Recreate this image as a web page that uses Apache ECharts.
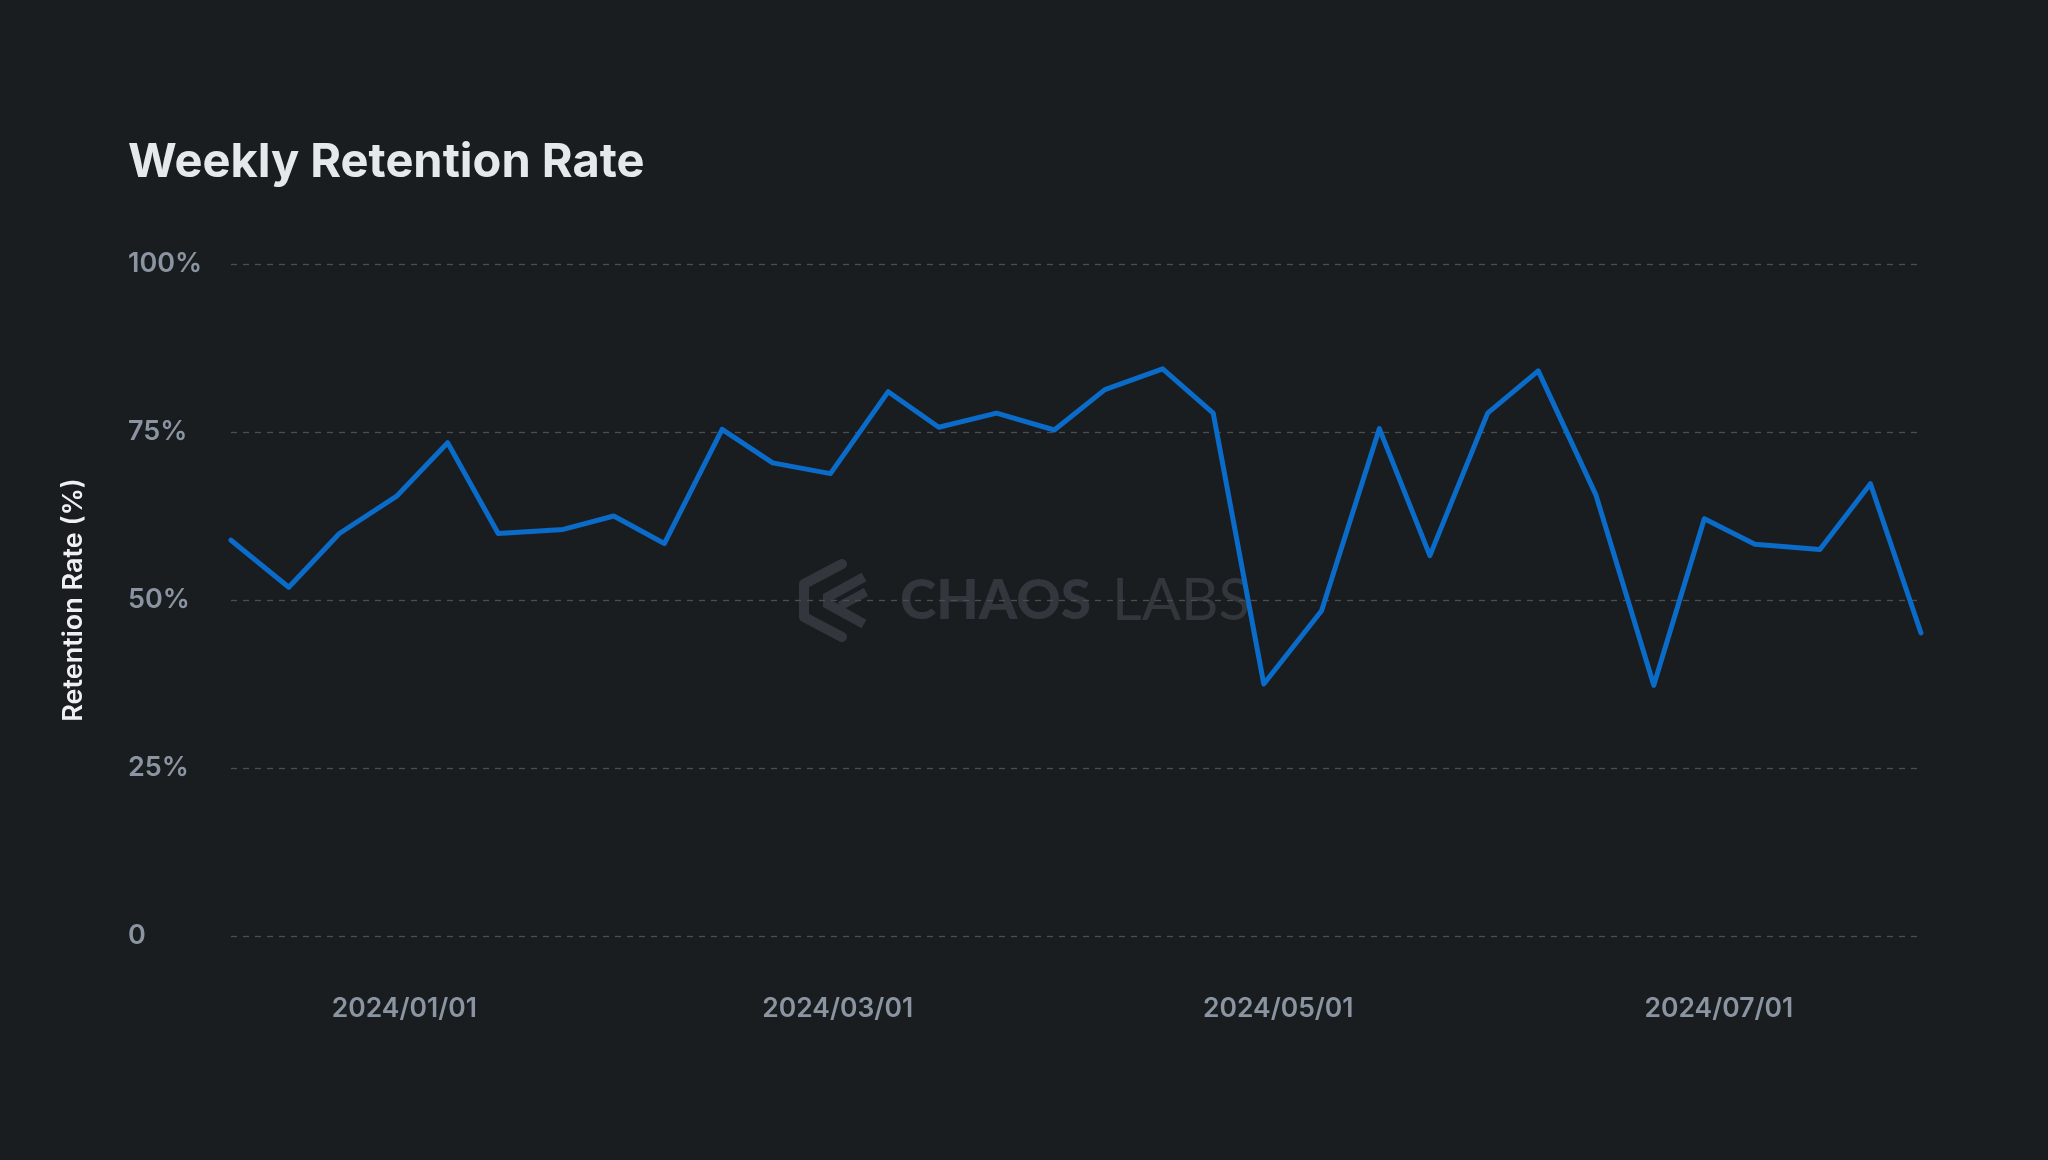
<!DOCTYPE html>
<html>
<head>
<meta charset="utf-8">
<script src="https://cdn.jsdelivr.net/npm/echarts@6/dist/echarts.min.js"></script>
<style>
  html, body { margin: 0; padding: 0; background: #1a1d20; }
  #chart { width: 2048px; height: 1160px; }
</style>
</head>
<body>
<div id="chart"></div>
<script>
// ---- data ----
const dates = [
  '2023-12-08','2023-12-16','2023-12-23','2023-12-31','2024-01-07','2024-01-14',
  '2024-01-23','2024-01-30','2024-02-06','2024-02-14','2024-02-21','2024-02-29',
  '2024-03-08','2024-03-15','2024-03-23','2024-03-31','2024-04-07','2024-04-15',
  '2024-04-22','2024-04-29','2024-05-07','2024-05-15','2024-05-22','2024-05-30',
  '2024-06-06','2024-06-14','2024-06-22','2024-06-29','2024-07-06','2024-07-15',
  '2024-07-22','2024-07-29'
];
const retention = [
  58.9, 51.9, 59.9, 65.5, 73.4, 59.9,
  60.5, 62.5, 58.4, 75.4, 70.4, 68.8,
  81.0, 75.7, 77.8, 75.3, 81.3, 84.4,
  77.8, 37.5, 48.4, 75.5, 56.6, 77.8,
  84.1, 65.6, 37.3, 62.1, 58.3, 57.5,
  67.3, 45.1
];
const xTickLabels = ['2024/01/01','2024/03/01','2024/05/01','2024/07/01'];
const yTicks = [0, 25, 50, 75, 100];

const titleText = 'Weekly Retention Rate';
const yAxisName = 'Retention Rate (%)';

function toTs(s) {
  const p = s.split('-').map(Number);
  return new Date(p[0], p[1] - 1, p[2]).getTime();
}
function pad(n) { return n < 10 ? '0' + n : '' + n; }
function fmtDate(v) {
  const d = new Date(v);
  return d.getFullYear() + '/' + pad(d.getMonth() + 1) + '/' + pad(d.getDate());
}

const seriesData = dates.map((d, i) => [toTs(d), retention[i]]);

const chart = echarts.init(document.getElementById('chart'), null, { renderer: 'canvas' });

const wmColor = '#33373d';
const option = {
  backgroundColor: '#1a1d20',
  animation: false,
  title: {
    text: titleText,
    left: 128,
    top: 139,
    padding: 0,
    textStyle: {
      color: '#e6e9ec',
      fontFamily: 'Inter',
      fontWeight: 700,
      fontSize: 47
    }
  },
  grid: { left: 231, right: 127, top: 264, bottom: 224 },
  graphic: [
    {
      type: 'group',
      silent: true,
      z: 0,
      children: [
        { type: 'polyline', shape: { points: [[842,564],[804,584],[804,617],[842,637]] },
          style: { stroke: wmColor, lineWidth: 10, fill: null, lineJoin: 'round', lineCap: 'round' } },
        { type: 'polyline', shape: { points: [[864,577],[828,597],[828,604],[864,624]] },
          style: { stroke: wmColor, lineWidth: 10, fill: null, lineJoin: 'miter' } },
        { type: 'polyline', shape: { points: [[840,606],[866,592]] },
          style: { stroke: wmColor, lineWidth: 9, fill: null } },
        { type: 'text', x: 900, y: 601,
          style: { text: 'CHAOS', fill: wmColor, font: '900 55px Lato', textVerticalAlign: 'middle', textAlign: 'left' } },
        { type: 'text', x: 1112, y: 601,
          style: { text: 'LABS', fill: wmColor, font: '400 58px Lato', textVerticalAlign: 'middle', textAlign: 'left' } }
      ]
    }
  ],
  xAxis: {
    type: 'time',
    min: 'dataMin',
    max: 'dataMax',
    splitNumber: 8,
    axisLine: { show: false },
    axisTick: { show: false },
    splitLine: { show: false },
    axisLabel: {
      showMinLabel: false,
      showMaxLabel: false,
      hideOverlap: false,
      formatter: function (v) {
        const s = fmtDate(v);
        return xTickLabels.indexOf(s) >= 0 ? s : '';
      },
      color: '#8a95a1',
      fontFamily: 'Inter',
      fontWeight: 600,
      fontSize: 26.5,
      margin: 60
    }
  },
  yAxis: {
    type: 'value',
    min: 0,
    max: 100,
    interval: 25,
    name: yAxisName,
    nameLocation: 'middle',
    nameGap: 144,
    nameTextStyle: {
      color: '#eef0f2',
      fontFamily: 'Inter',
      fontWeight: 600,
      fontSize: 27
    },
    axisLine: { show: false },
    axisTick: { show: false },
    axisLabel: {
      align: 'left',
      margin: 103,
      color: '#8a95a1',
      fontFamily: 'Inter',
      fontWeight: 600,
      fontSize: 27,
      formatter: v => (yTicks.indexOf(v) >= 0 ? (v === 0 ? '0' : v + '%') : '')
    },
    splitLine: {
      show: true,
      lineStyle: { color: '#4a4e53', width: 1.3, type: [6, 6] }
    }
  },
  series: [{
    type: 'line',
    data: seriesData,
    showSymbol: false,
    z: 5,
    lineStyle: { color: '#0a6bc9', width: 5, join: 'round', cap: 'round' },
    itemStyle: { color: '#0a6bc9' }
  }]
};
chart.setOption(option);
</script>
</body>
</html>
